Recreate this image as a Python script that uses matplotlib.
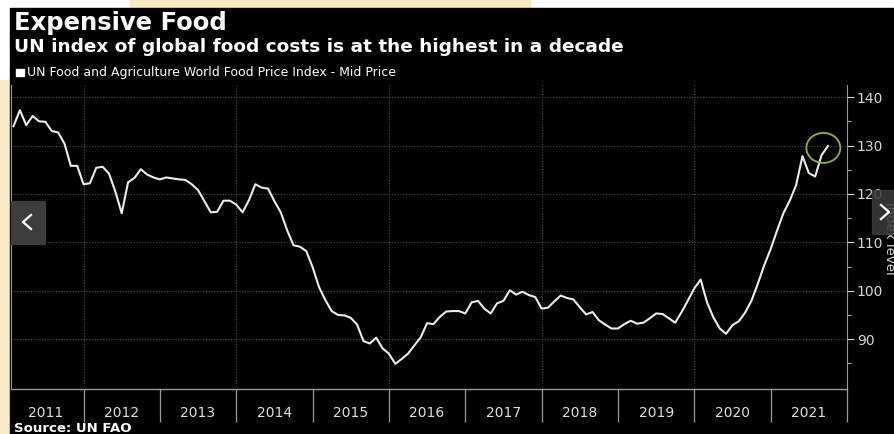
import numpy as np
import matplotlib.pyplot as plt
from matplotlib.patches import Rectangle, Ellipse
from matplotlib.lines import Line2D

# monthly index values, Jan 2011 .. Sep 2021
values = [
    134.0, 137.3, 134.2, 136.1, 135.0, 134.9, 133.0, 132.7, 130.4, 125.8, 125.8, 122.0,
    122.2, 125.4, 125.6, 124.2, 120.5, 116.0, 122.4, 123.3, 125.1, 124.0, 123.4, 123.0,
    123.4, 123.2, 123.0, 122.9, 122.0, 120.8, 118.5, 116.2, 116.3, 118.6, 118.6, 117.8,
    116.2, 118.7, 122.0, 121.3, 121.1, 118.5, 116.2, 112.5, 109.4, 109.1, 108.2, 104.9,
    100.8, 98.1, 95.8, 95.0, 94.9, 94.4, 93.0, 89.6, 89.1, 90.3, 88.1, 87.0,
    84.9, 85.9, 87.0, 88.7, 90.4, 93.3, 93.1, 94.6, 95.7, 95.8, 95.8, 95.3,
    97.6, 97.9, 96.3, 95.3, 97.4, 97.9, 100.1, 99.2, 99.8, 99.1, 98.7, 96.3,
    96.5, 97.8, 99.0, 98.5, 98.2, 96.6, 95.1, 95.6, 93.9, 93.0, 92.2, 92.2,
    93.1, 93.8, 93.2, 93.4, 94.3, 95.3, 95.2, 94.3, 93.4, 95.6, 98.0, 100.5,
    102.3, 97.6, 94.5, 92.2, 91.1, 92.9, 93.7, 95.5, 98.0, 101.5, 105.3, 108.6,
    112.4, 116.0, 118.6, 121.8, 127.8, 124.3, 123.6, 128.0, 129.9,
]
start_year = 2011
years = list(range(2011, 2022))
y_ticks = [90, 100, 110, 120, 130, 140]
grid_years = [2012, 2014, 2016, 2018, 2020]
circle_center = (2021.69, 129.5)

t = start_year + (np.arange(len(values)) + 1) / 12.0

fig = plt.figure(figsize=(8.95, 4.34), dpi=100)
fig.patch.set_facecolor("white")

def fig_rect(x, y, w, h, color, z, alpha=1.0):
    # rectangle given in picture pixels from the top-left corner
    fig.patches.append(Rectangle((x / 895, 1 - (y + h) / 434), w / 895, h / 434,
                                 transform=fig.transFigure, color=color,
                                 zorder=z, alpha=alpha))

def chevron(xs, ys):
    fig.lines.append(Line2D([x / 895 for x in xs], [1 - y / 434 for y in ys],
                            transform=fig.transFigure, color="white", lw=1.6, zorder=6))

# screenshot frame: cream strips and black panel
fig_rect(130, 0, 400, 8, "#f6e9bd", -3)
fig_rect(0, 80, 10, 354, "#f7ecc6", -3)
fig_rect(10, 8, 885, 426, "black", -2)

ax = fig.add_axes([11 / 895, 1 - 389 / 434, 836 / 895, 304 / 434])
ax.set_zorder(1)
ax.set_facecolor("black")
ax.plot(t, values, color="#ececec", lw=1.5, solid_joinstyle="round", zorder=3)

ax.set_xlim(2011.05, 2022.0)
ax.set_ylim(79.7, 142.5)

# y axis on the right
ax.yaxis.tick_right()
ax.set_yticks(y_ticks)
ax.set_yticks(np.arange(85, 141, 5), minor=True)
ax.tick_params(axis="y", which="major", colors="#d8d8d8", labelsize=10,
               length=5, width=0.8, pad=2)
ax.tick_params(axis="y", which="minor", colors="#d8d8d8", length=3, width=0.6)
ax.grid(axis="y", color="#4e4e4e", ls=(0, (1, 1.5)), lw=0.8)
for g in grid_years:
    ax.axvline(g, color="#4e4e4e", ls=(0, (1, 1.5)), lw=0.8, zorder=1)

# x axis: year separators and centred labels
ax.set_xticks(years[1:] + [2022])
ax.set_xticklabels([])
ax.set_xticks([y + 0.5 for y in years], minor=True)
ax.set_xticklabels([str(y) for y in years], minor=True)
ax.tick_params(axis="x", which="major", colors="#9a9a9a", length=24, width=0.9)
ax.tick_params(axis="x", which="minor", length=0, colors="#e0e0e0", labelsize=10, pad=12)

for side in ["left", "right", "bottom"]:
    ax.spines[side].set_color("#9a9a9a")
ax.spines["top"].set_visible(False)
ax.spines["bottom"].set_linewidth(1.0)

ax.add_patch(Ellipse(circle_center, 0.445, 6.2, fill=False, ec="#8fb53c", lw=1.3, zorder=4))

# titles, legend, source
fig.text(14 / 895, 1 - 23 / 434, "Expensive Food", color="white", fontsize=17.5,
         fontweight="bold", va="center")
fig.text(14 / 895, 1 - 47 / 434, "UN index of global food costs is at the highest in a decade",
         color="white", fontsize=13.3, fontweight="bold", va="center")
fig_rect(16, 69, 8, 7, "white", 2)
fig.text(27 / 895, 1 - 72.5 / 434, "UN Food and Agriculture World Food Price Index - Mid Price",
         color="white", fontsize=9.0, va="center")
fig.text(14 / 895, 1 - 428 / 434, "Source: UN FAO", color="white", fontsize=9.5,
         fontweight="bold", va="center")
fig.text(889.5 / 895, 1 - 238 / 434, "Index level", color="#d8d8d8", fontsize=9.5,
         rotation=270, ha="center", va="center")

# gallery navigation buttons
fig_rect(11, 201, 34, 43, "#3d3d3d", 5)
chevron([31, 23, 31], [215, 222, 229])
fig_rect(872, 190, 23, 44, "#3d3d3d", 5, alpha=0.85)
chevron([881, 889, 881], [205, 212, 219])

fig.savefig("out.png", dpi=100, facecolor=fig.get_facecolor())
